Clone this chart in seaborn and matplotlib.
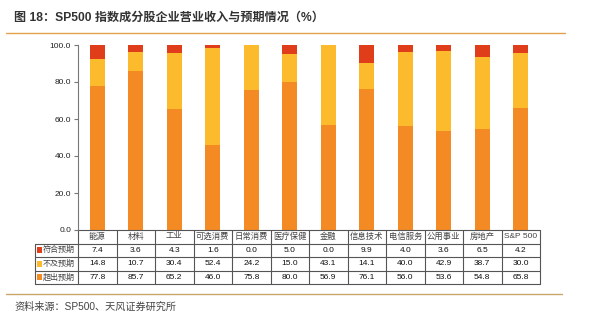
import matplotlib
matplotlib.use("Agg")
import matplotlib.pyplot as plt
from matplotlib.lines import Line2D
from matplotlib.patches import Rectangle
import numpy as np
import pandas as pd
import seaborn as sns

sns.set_theme(style="white")
plt.rcParams["font.family"] = ["Liberation Sans", "Noto Sans CJK SC", "DejaVu Sans"]

# ---- data -------------------------------------------------------------
categories = ["能源", "材料", "工业", "可选消费", "日常消费", "医疗保健",
              "金融", "信息技术", "电信服务", "公用事业", "房地产", "S&P 500"]
meet = [7.4, 3.6, 4.3, 1.6, 0.0, 5.0, 0.0, 9.9, 4.0, 3.6, 6.5, 4.2]        # 符合预期
miss = [14.8, 10.7, 30.4, 52.4, 24.2, 15.0, 43.1, 14.1, 40.0, 42.9, 38.7, 30.0]  # 不及预期
beat = [77.8, 85.7, 65.2, 46.0, 75.8, 80.0, 56.9, 76.1, 56.0, 53.6, 54.8, 65.8]  # 超出预期
series_names = ["符合预期", "不及预期", "超出预期"]
yticks = [0, 20, 40, 60, 80, 100]

c_meet, c_miss, c_beat = "#E03E1A", "#FBBB2C", "#F38A24"

df = pd.DataFrame({"cat": categories, "meet": meet, "miss": miss, "beat": beat})
df["top_beat"] = df["beat"]
df["top_miss"] = df["beat"] + df["miss"]
df["top_meet"] = df["beat"] + df["miss"] + df["meet"]

fig = plt.figure(figsize=(5.89, 3.36), dpi=100)
L, R, T, B = 78 / 589, 540 / 589, 1 - 45 / 336, 1 - 230 / 336
ax = fig.add_axes([L, B, R - L, T - B])

# stacked bars: draw cumulative layers from the top segment down
for col, color in [("top_meet", c_meet), ("top_miss", c_miss), ("top_beat", c_beat)]:
    sns.barplot(data=df, x="cat", y=col, color=color, saturation=1,
                width=0.4, linewidth=0, ax=ax, errorbar=None)

ax.set_xlim(-0.5, len(categories) - 0.5)
ax.set_ylim(0, 100)
ax.set_yticks(yticks)
ax.set_yticklabels([f"{v:.1f}" for v in yticks], fontsize=6, color="#222222")
ax.tick_params(axis="y", direction="out", length=3, width=0.8, color="#777777", pad=2, left=True)
ax.set_xticks([])
ax.set_xlabel("")
ax.set_ylabel("")
for s in ["top", "right", "bottom"]:
    ax.spines[s].set_visible(False)
ax.spines["left"].set_color("#777777")
ax.spines["left"].set_linewidth(0.8)

# ---- data table below the axis ---------------------------------------
tr = ax.get_xaxis_transform()
h = 13.5 / 185
n = len(categories)
x_left = -0.5 - (78 - 35) / 38.5
x_right = n - 0.5
lc, lw = "#555555", 0.8

def line(xs, ys):
    ax.add_line(Line2D(xs, ys, transform=tr, color=lc, lw=lw, clip_on=False))

# header row (category names)
line([-0.5, x_right], [0, 0])
line([x_left, x_right], [-h, -h])
for k in range(2, 5):
    line([x_left, x_right], [-k * h, -k * h])
for i in range(n + 1):
    line([i - 0.5, i - 0.5], [0, -4 * h])
line([x_left, x_left], [-h, -4 * h])

for i, c in enumerate(categories):
    ax.text(i, -0.5 * h, c, transform=tr, ha="center", va="center",
            fontsize=6, color="#444444")

rows = [(series_names[0], meet, c_meet), (series_names[1], miss, c_miss),
        (series_names[2], beat, c_beat)]
for r, (name, vals, color) in enumerate(rows):
    yc = -(r + 1.5) * h
    ax.add_patch(Rectangle((x_left + 0.06, yc - 0.017), 0.11, 0.034,
                           transform=tr, color=color, clip_on=False, lw=0))
    ax.text(x_left + 0.2, yc, name, transform=tr, ha="left", va="center",
            fontsize=5.8, color="#444444")
    for i, v in enumerate(vals):
        ax.text(i, yc, f"{v:.1f}", transform=tr, ha="center", va="center",
                fontsize=6, color="#111111")

# ---- title, rules and source ----------------------------------------
fig.text(14 / 589, 1 - 18 / 336, "图 18：SP500 指数成分股企业营业收入与预期情况（%）",
         fontsize=8.7, fontweight="bold", color="#333333", ha="left", va="center")
fig.add_artist(Line2D([6 / 589, 565 / 589], [1 - 33 / 336] * 2, color="#E2A24C", lw=1.0))
fig.add_artist(Line2D([6 / 589, 562 / 589], [1 - 294 / 336] * 2, color="#C9A56A", lw=1.0))
fig.text(14 / 589, 1 - 307 / 336, "资料来源：SP500、天风证券研究所",
         fontsize=7.3, color="#444444", ha="left", va="center")

fig.savefig("out.png", dpi=100, facecolor="white")
